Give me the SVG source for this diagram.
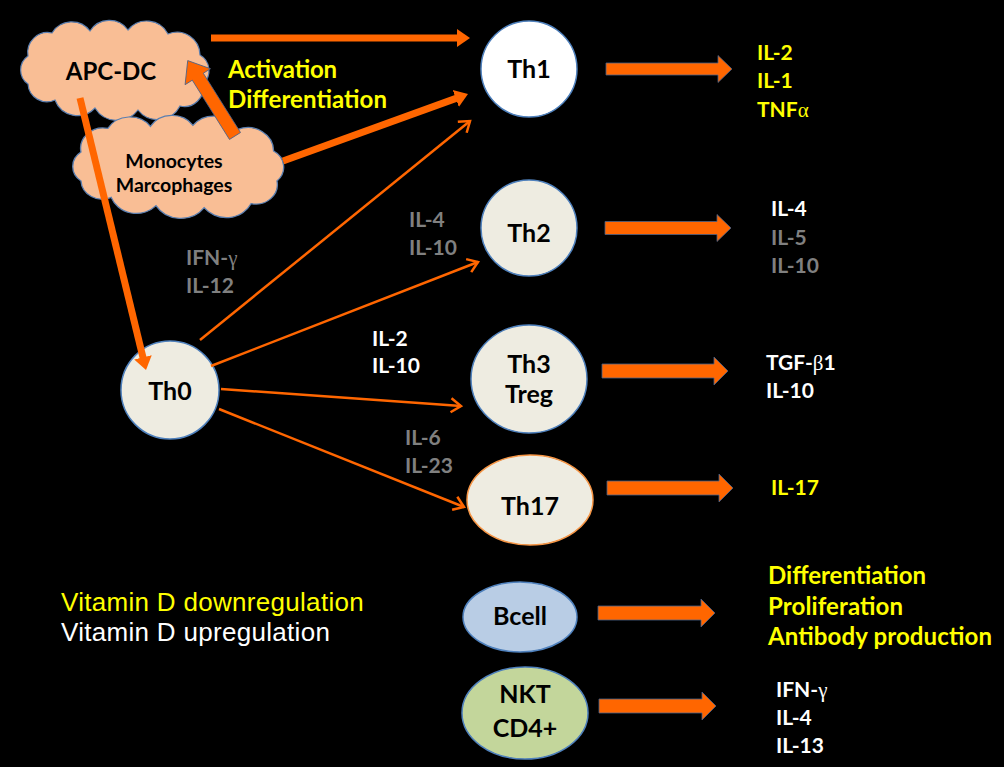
<svg xmlns="http://www.w3.org/2000/svg" xmlns:xlink="http://www.w3.org/1999/xlink" width="1004" height="767" viewBox="0 0 1004 767">
<defs>
<style>
.lbl{font-family:Lato,"Liberation Sans",sans-serif;font-weight:bold;fill:#000;text-anchor:middle}
.t{font-family:Lato,"Liberation Sans",sans-serif;font-weight:bold;font-size:21px}
.big{font-size:24px}
.y{fill:#FFFF00}.w{fill:#FFFFFF}.g{fill:#808080}
.gr{font-family:"Liberation Serif",serif;font-weight:normal}
.cloud{fill:#F9BE95;stroke:#5B7FB0;stroke-width:1.2}
.cell{fill:#EEECE1;stroke:#4F81BD;stroke-width:1.5}
.thick{fill:none;stroke:#FF6600;stroke-width:7}
.thin{fill:none;stroke:#FF6600;stroke-width:2.5;marker-end:url(#open)}
.blk{fill:#FF6600;stroke:#4A6288;stroke-width:0.8}
.leg{font-family:"Liberation Sans",Arial,sans-serif;font-size:26px;letter-spacing:0.3px}
</style>
<marker id="head" markerUnits="userSpaceOnUse" markerWidth="20" markerHeight="22" refX="1" refY="11" orient="auto" viewBox="0 0 20 22">
<path d="M0,2 L13,11 L0,20 Z" fill="#FF6600"/>
</marker>
<marker id="open" markerUnits="userSpaceOnUse" markerWidth="16" markerHeight="18" refX="13" refY="9" orient="auto" viewBox="0 0 16 18">
<path d="M3,2 L13,9 L3,16" fill="none" stroke="#FF6600" stroke-width="2.5"/>
</marker>
<path id="cloudshape" d="M 8 36 A 20 20 0 0 1 32 13 A 23 23 0 0 1 70 11 A 23 23 0 0 1 108 10 A 24 24 0 0 1 148 14 A 23 23 0 0 1 180 35 A 18 18 0 0 1 183 64 A 19 19 0 0 1 160 86 A 25 25 0 0 1 118 90 A 26 26 0 0 1 75 88 A 24 24 0 0 1 35 80 A 19 19 0 0 1 8 64 A 17 17 0 0 1 8 36 Z"/>
</defs>
<rect width="1004" height="767" fill="#000"/>

<g id="apc-dc">
<use xlink:href="#cloudshape" class="cloud" transform="translate(20,20)"/>
<text class="lbl" x="111" y="80" font-size="24">APC-DC</text>
</g>

<g id="monocytes">
<use xlink:href="#cloudshape" class="cloud" transform="translate(72,115) scale(1.12,1.03)" vector-effect="non-scaling-stroke"/>
<text class="lbl" x="174" y="168" font-size="19.5">Monocytes</text>
<text class="lbl" x="174" y="192" font-size="19.5">Marcophages</text>
</g>

<g id="th1">
<circle cx="529" cy="69" r="48" fill="#FFFFFF" stroke="#4F81BD" stroke-width="1.5"/>
<text class="lbl" x="529" y="78" font-size="25">Th1</text>
</g>
<g id="th2">
<circle class="cell" cx="529" cy="228" r="48"/>
<text class="lbl" x="529" y="242" font-size="25">Th2</text>
</g>
<g id="th3">
<ellipse class="cell" cx="529" cy="379" rx="58" ry="54"/>
<text class="lbl" x="529" y="373" font-size="25">Th3</text>
<text class="lbl" x="529" y="403" font-size="25">Treg</text>
</g>
<g id="th17">
<ellipse cx="530" cy="500" rx="63" ry="45" fill="#EEECE1" stroke="#F79646" stroke-width="1.5"/>
<text class="lbl" x="530" y="515" font-size="25">Th17</text>
</g>
<g id="bcell">
<ellipse cx="520" cy="617" rx="57" ry="35" fill="#B9CDE5" stroke="#4F81BD" stroke-width="1.5"/>
<text class="lbl" x="520" y="625" font-size="25">Bcell</text>
</g>
<g id="nkt">
<ellipse cx="525" cy="713" rx="63" ry="46" fill="#C3D69B" stroke="#4F81BD" stroke-width="1.5"/>
<text class="lbl" x="525" y="703" font-size="25">NKT</text>
<text class="lbl" x="525" y="737" font-size="25">CD4+</text>
</g>
<g id="th0">
<circle class="cell" cx="170" cy="390" r="49"/>
<text class="lbl" x="170" y="400" font-size="25">Th0</text>
</g>

<g id="connectors">
<path class="thick" d="M211,38 L458,38" marker-end="url(#head)"/>
<path class="thick" d="M283,161 L456.7,98.1" marker-end="url(#head)"/>
<path class="thick" d="M80,98 L143.2,358.3" marker-end="url(#head)"/>
<polygon class="blk" points="0,-6.5 70,-6.5 70,-15 89,0 70,15 70,6.5 0,6.5" transform="translate(235,136) rotate(-122.1)"/>
<path class="thin" d="M200,340 L470,121"/>
<path class="thin" d="M211,366 L478,262"/>
<path class="thin" d="M221,389 L461,406"/>
<path class="thin" d="M219,409 L464,507"/>
<polygon class="blk" points="606,63 718,63 718,55.5 732,69 718,82.5 718,75 606,75"/>
<polygon class="blk" points="605,221.5 717,221.5 717,214.5 731,228 717,241.5 717,234.5 605,234.5"/>
<polygon class="blk" points="602,364 714,364 714,357 728,371 714,385 714,378 602,378"/>
<polygon class="blk" points="607,481 719,481 719,474 733,488 719,502 719,495 607,495"/>
<polygon class="blk" points="598,606 701,606 701,599 715,613 701,627 701,620 598,620"/>
<polygon class="blk" points="599,699 702,699 702,692 716,706 702,720 702,713 599,713"/>
</g>

<g id="labels">
<text class="t y big" x="228" y="78" textLength="109" lengthAdjust="spacing">Activation</text>
<text class="t y big" x="228" y="108" textLength="159" lengthAdjust="spacing">Differentiation</text>
<text class="t g" x="186" y="265">IFN-<tspan class="gr">γ</tspan></text>
<text class="t g" x="186" y="293">IL-12</text>
<text class="t g" x="409" y="227">IL-4</text>
<text class="t g" x="409" y="255">IL-10</text>
<text class="t w" x="372" y="346">IL-2</text>
<text class="t w" x="372" y="373">IL-10</text>
<text class="t g" x="405" y="445">IL-6</text>
<text class="t g" x="405" y="473">IL-23</text>

<text class="t y" x="757" y="60">IL-2</text>
<text class="t y" x="757" y="88">IL-1</text>
<text class="t y" x="757" y="117">TNF<tspan class="gr">α</tspan></text>
<text class="t w" x="771" y="216">IL-4</text>
<text class="t g" x="771" y="245">IL-5</text>
<text class="t g" x="771" y="273">IL-10</text>
<text class="t w" x="766" y="370">TGF-<tspan class="gr">β</tspan>1</text>
<text class="t w" x="766" y="398">IL-10</text>
<text class="t y" x="771" y="495">IL-17</text>
<text class="t y big" x="768" y="584" textLength="158" lengthAdjust="spacing">Differentiation</text>
<text class="t y big" x="768" y="615" textLength="135" lengthAdjust="spacing">Proliferation</text>
<text class="t y big" x="768" y="645" textLength="224" lengthAdjust="spacing">Antibody production</text>
<text class="t w" x="776" y="697">IFN-<tspan class="gr">γ</tspan></text>
<text class="t w" x="776" y="725">IL-4</text>
<text class="t w" x="776" y="753">IL-13</text>

<text class="leg y" x="61" y="611">Vitamin D downregulation</text>
<text class="leg w" x="61" y="641">Vitamin D upregulation</text>
</g>
</svg>
